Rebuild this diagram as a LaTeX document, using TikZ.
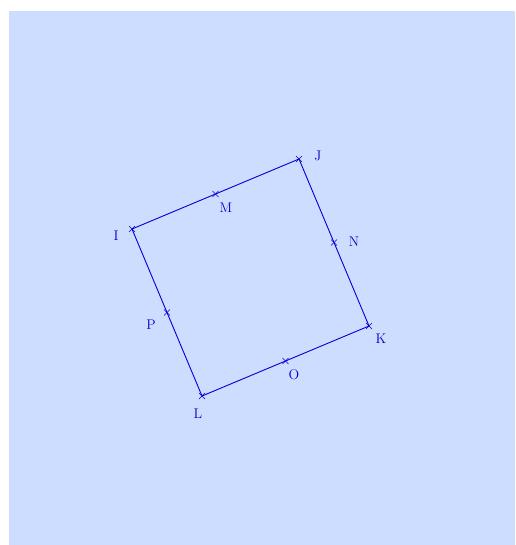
\documentclass[tikz,border=0pt]{standalone}
\usetikzlibrary{calc}
\begin{document}
\begin{tikzpicture}[x=1pt,y=-1pt,
  edge/.style={draw=blue!85!black, line width=0.9pt},
  lbl/.style={text=blue!80!black, font=\fontsize{14}{16}\selectfont, inner sep=0pt},
  tick/.style={draw=blue!85!black, line width=0.6pt}]
\definecolor{bg}{RGB}{204,221,255}
\useasboundingbox (0,0) rectangle (515,545);
\fill[bg] (9,11) rectangle (515,545);
\coordinate (I) at (132,229);
\coordinate (J) at (299,159);
\coordinate (K) at (369,326);
\coordinate (L) at (202,396);
\coordinate (M) at ($(I)!0.5!(J)$);
\coordinate (N) at ($(J)!0.5!(K)$);
\coordinate (O) at ($(K)!0.5!(L)$);
\coordinate (P) at ($(L)!0.5!(I)$);
\draw[edge] (I) -- (J) -- (K) -- (L) -- cycle;
\foreach \p in {I,J,K,L,M,N,O,P}{
  \draw[tick] ($(\p)+(-3,-3)$) -- ($(\p)+(3,3)$);
  \draw[tick] ($(\p)+(-3,3)$) -- ($(\p)+(3,-3)$);
}
\node[lbl] (lI) at (116,236) {I};
\node[lbl] (lJ) at (318,156) {J};
\node[lbl] (lK) at (381,339) {K};
\node[lbl] (lL) at (198,414) {L};
\node[lbl] (lM) at (226,208) {M};
\node[lbl] (lN) at (354,242) {N};
\node[lbl] (lO) at (294,375) {O};
\node[lbl] (lP) at (151,325) {P};
\end{tikzpicture}
\end{document}
